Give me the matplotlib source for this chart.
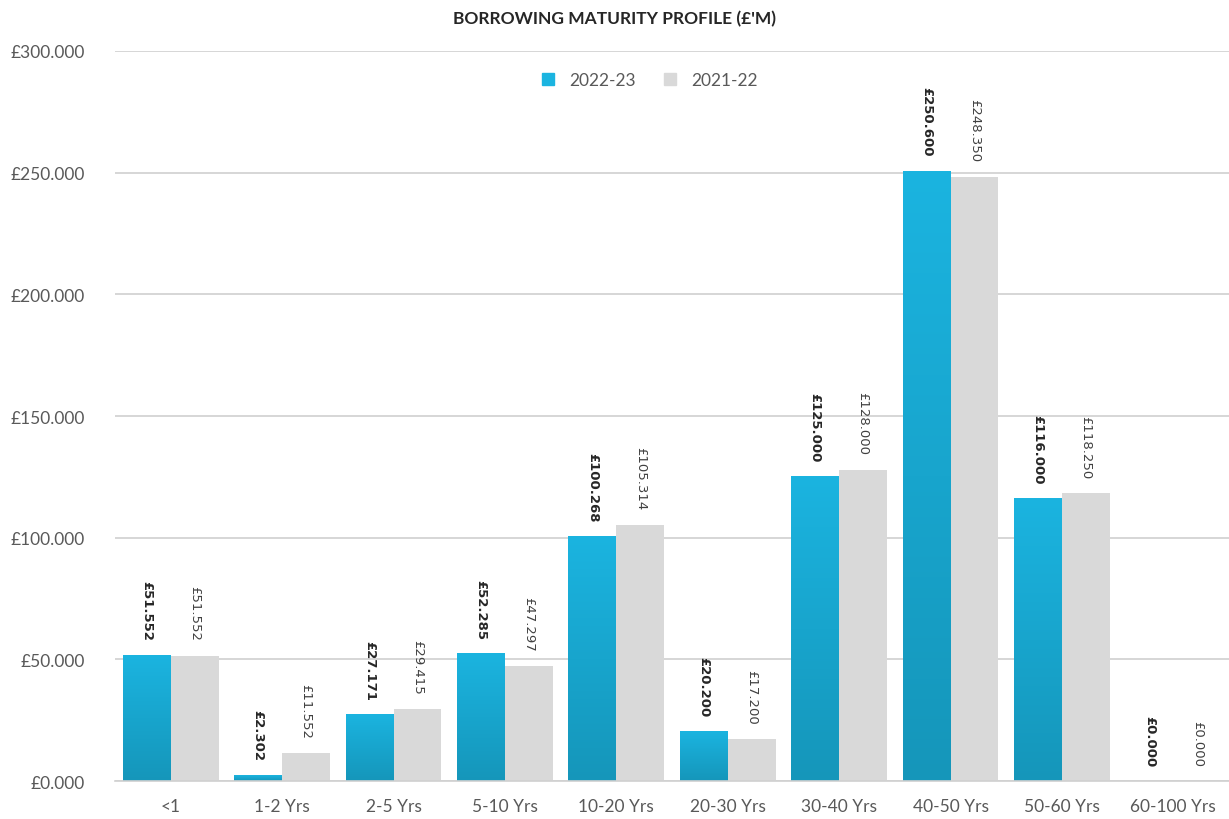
import numpy as np
import matplotlib.pyplot as plt
from matplotlib.colors import LinearSegmentedColormap
from matplotlib.lines import Line2D

categories = ['<1', '1-2 Yrs', '2-5 Yrs', '5-10 Yrs', '10-20 Yrs', '20-30 Yrs',
              '30-40 Yrs', '40-50 Yrs', '50-60 Yrs', '60-100 Yrs']
values_2223 = [51.552, 2.302, 27.171, 52.285, 100.268, 20.200, 125.000, 250.600, 116.000, 0.000]
values_2122 = [51.552, 11.552, 29.415, 47.297, 105.314, 17.200, 128.000, 248.350, 118.250, 0.000]
yticks = [0, 50, 100, 150, 200, 250, 300]

BLUE_TOP = '#1bb4e0'
BLUE_BOTTOM = '#1596ba'
GREY = '#d9d9d9'
TEXT = '#595959'

plt.rcParams['font.family'] = ['Lato', 'DejaVu Sans']

fig = plt.figure(figsize=(12.29, 8.2), dpi=100)
ax = fig.add_axes([0.0936, 0.0463, 0.9064, 0.8903])

x = np.arange(len(categories))
w = 0.43

bars_a = ax.bar(x - w / 2, values_2223, w, color=BLUE_TOP, zorder=2)
bars_b = ax.bar(x + w / 2, values_2122, w, color=GREY, zorder=2)

# vertical gradient on the 2022-23 bars
cmap = LinearSegmentedColormap.from_list('bluegrad', [BLUE_BOTTOM, BLUE_TOP])
grad = np.linspace(0, 1, 256).reshape(-1, 1)
for b in bars_a:
    h = b.get_height()
    if h <= 0:
        continue
    x0 = b.get_x()
    ax.imshow(grad, cmap=cmap, origin='lower', aspect='auto',
              extent=(x0, x0 + b.get_width(), 0, h), zorder=2.5)

for b, v in zip(bars_a, values_2223):
    ax.annotate(f'£{v:.3f}', (b.get_x() + b.get_width() / 2, v),
                xytext=(0, 11), textcoords='offset points',
                ha='center', va='bottom', rotation=270,
                fontsize=9.5, fontweight='bold', color='#262626',
                family='DejaVu Sans')
for b, v in zip(bars_b, values_2122):
    ax.annotate(f'£{v:.3f}', (b.get_x() + b.get_width() / 2, v),
                xytext=(0, 11), textcoords='offset points',
                ha='center', va='bottom', rotation=270,
                fontsize=9.5, color='#404040', family='DejaVu Sans')

ax.set_xlim(-0.5, len(categories) - 0.5)
ax.set_ylim(0, 300)
ax.set_yticks(yticks)
ax.set_yticklabels([f'£{t:.3f}' for t in yticks])
ax.set_xticks(x)
ax.set_xticklabels(categories)
ax.tick_params(axis='both', length=0, labelsize=12.5, colors=TEXT)
ax.tick_params(axis='y', pad=22)
ax.tick_params(axis='x', pad=12)

ax.grid(axis='y', color='#d0d0d0', linewidth=1.2, zorder=0)
ax.set_axisbelow(True)
for s in ['top', 'right', 'left']:
    ax.spines[s].set_visible(False)
ax.spines['bottom'].set_color('#d0d0d0')
ax.spines['bottom'].set_linewidth(1.2)

handles = [Line2D([], [], marker='s', linestyle='', markersize=9, color=BLUE_TOP),
           Line2D([], [], marker='s', linestyle='', markersize=9, color=GREY)]
ax.legend(handles, ['2022-23', '2021-22'], loc='upper center',
          bbox_to_anchor=(0.475, 0.993), ncol=2, frameon=False,
          fontsize=12.5, labelcolor=TEXT, handletextpad=0.2, columnspacing=1.0)

fig.text(0.5, 0.977, "BORROWING MATURITY PROFILE (£'M)", ha='center', va='center',
         fontsize=12.5, fontweight='bold', color='#262626')

fig.savefig('out.png', dpi=100)
